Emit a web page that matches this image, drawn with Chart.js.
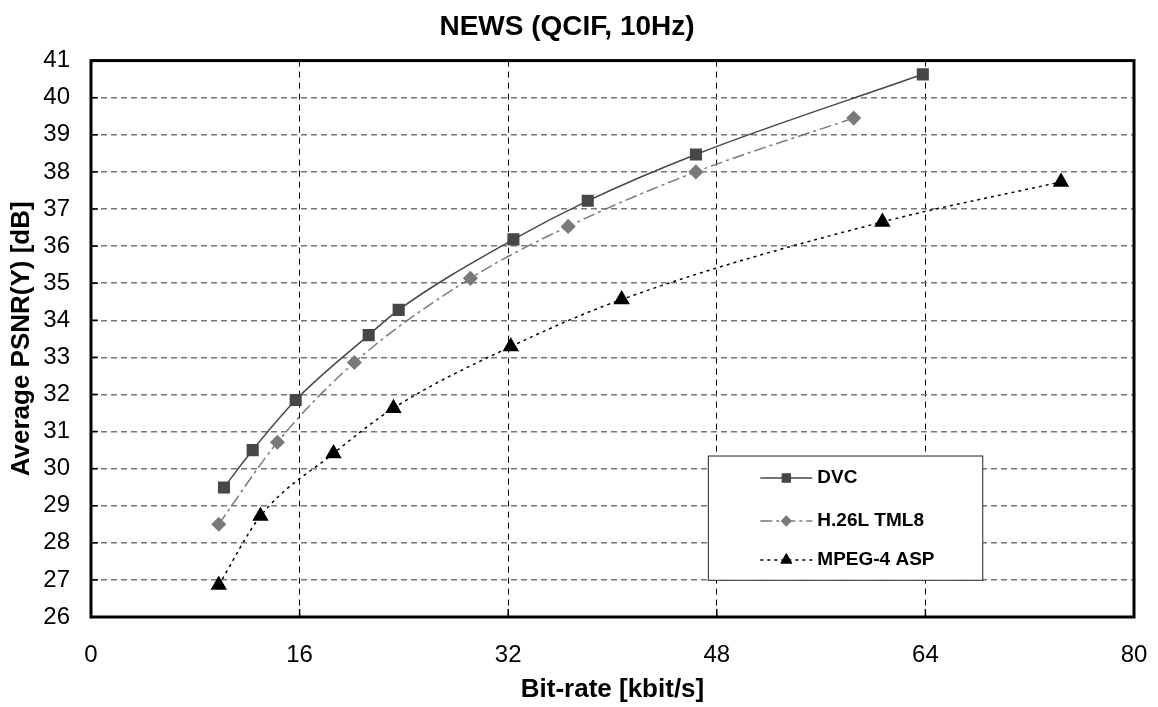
<!DOCTYPE html>
<html>
<head>
<meta charset="utf-8">
<script src="https://cdn.jsdelivr.net/npm/chart.js@4.4.1/dist/chart.umd.min.js"></script>
<style>
  html, body { margin: 0; padding: 0; background: #fff; }
  #wrap { width: 1158px; height: 707px; }
</style>
</head>
<body>
<div id="wrap"><canvas id="psnrChart"></canvas></div>
<script>
// Bit-rate [kbit/s] and average PSNR(Y) [dB] per codec
const dvcRate = [10.2, 12.4, 15.7, 21.3, 23.6, 32.4, 38.1, 46.4, 63.8];
const dvcPsnr = [29.49, 30.5, 31.85, 33.6, 34.28, 36.18, 37.22, 38.47, 40.63];
const h26lRate = [9.8, 14.3, 20.2, 29.1, 36.6, 46.4, 58.5];
const h26lPsnr = [28.5, 30.71, 32.86, 35.13, 36.53, 38.0, 39.45];
const mpeg4Rate = [9.8, 13.0, 18.6, 23.2, 32.2, 40.7, 60.7, 74.4];
const mpeg4Psnr = [26.86, 28.72, 30.41, 31.63, 33.29, 34.56, 36.65, 37.73];
const seriesNames = ['DVC', 'H.26L TML8', 'MPEG-4 ASP'];
const xTicks = [0, 16, 32, 48, 64, 80];
const yTicks = [26, 27, 28, 29, 30, 31, 32, 33, 34, 35, 36, 37, 38, 39, 40, 41];

const FONT = "'Liberation Sans', Arial, Helvetica, sans-serif";

function pts(xs, ys) {
  return xs.map((x, i) => ({ x: x, y: ys[i] }));
}

// frame round the plot area, with small inward tick marks
const framePlugin = {
  id: 'frame',
  afterDatasetsDraw(chart) {
    const { ctx, chartArea: a, scales } = chart;
    ctx.save();
    ctx.strokeStyle = '#000';
    ctx.lineWidth = 1.5;
    ctx.setLineDash([]);
    scales.x.ticks.forEach(t => {
      const px = scales.x.getPixelForValue(t.value);
      ctx.beginPath();
      ctx.moveTo(px, a.bottom);
      ctx.lineTo(px, a.bottom - 8);
      ctx.stroke();
    });
    scales.y.ticks.forEach(t => {
      const py = scales.y.getPixelForValue(t.value);
      ctx.beginPath();
      ctx.moveTo(a.left, py);
      ctx.lineTo(a.left + 7, py);
      ctx.stroke();
    });
    ctx.lineWidth = 3;
    ctx.strokeRect(a.left, a.top, a.right - a.left, a.bottom - a.top);
    ctx.restore();
  }
};

// boxed legend inside the plot, lower right
const boxLegend = {
  id: 'boxLegend',
  afterDatasetsDraw(chart, args, opts) {
    const { ctx, scales } = chart;
    const x0 = scales.x.getPixelForValue(opts.x0);
    const x1 = scales.x.getPixelForValue(opts.x1);
    const y0 = scales.y.getPixelForValue(opts.y0);
    const y1 = scales.y.getPixelForValue(opts.y1);
    ctx.save();
    ctx.fillStyle = '#fff';
    ctx.fillRect(x0, y0, x1 - x0, y1 - y0);
    ctx.strokeStyle = '#222';
    ctx.lineWidth = 1;
    ctx.strokeRect(x0, y0, x1 - x0, y1 - y0);
    chart.data.datasets.forEach((ds, i) => {
      const ry = y0 + opts.rows[i];
      const lx = x0 + 52;
      ctx.save();
      ctx.strokeStyle = ds.borderColor;
      ctx.lineWidth = ds.borderWidth;
      ctx.setLineDash(ds.borderDash || []);
      ctx.beginPath();
      ctx.moveTo(lx, ry);
      ctx.lineTo(lx + 52, ry);
      ctx.stroke();
      ctx.restore();
      ctx.fillStyle = ds.pointBackgroundColor;
      ctx.strokeStyle = ds.pointBorderColor;
      ctx.lineWidth = 1;
      Chart.helpers.drawPoint(ctx, {
        pointStyle: ds.pointStyle,
        radius: ds.pointRadius * 0.8,
        borderWidth: 1,
        rotation: 0
      }, lx + 26, ry);
      ctx.fillStyle = '#000';
      ctx.font = 'bold 19px ' + FONT;
      ctx.textBaseline = 'middle';
      ctx.textAlign = 'left';
      ctx.fillText(ds.label, lx + 57, ry);
    });
    ctx.restore();
  }
};

const chart = new Chart(document.getElementById('psnrChart').getContext('2d'), {
  type: 'scatter',
  data: {
    datasets: [{
      label: seriesNames[0],
      data: pts(dvcRate, dvcPsnr),
      showLine: true,
      borderColor: '#474747',
      borderWidth: 1.5,
      pointStyle: 'rect',
      pointRadius: 7.5,
      pointBackgroundColor: '#474747',
      pointBorderColor: '#474747',
      cubicInterpolationMode: 'monotone'
    }, {
      label: seriesNames[1],
      data: pts(h26lRate, h26lPsnr),
      showLine: true,
      borderColor: '#7a7a7a',
      borderWidth: 1.5,
      borderDash: [12, 4, 3, 4],
      pointStyle: 'rectRot',
      pointRadius: 6.5,
      pointBackgroundColor: '#7a7a7a',
      pointBorderColor: '#7a7a7a',
      cubicInterpolationMode: 'monotone'
    }, {
      label: seriesNames[2],
      data: pts(mpeg4Rate, mpeg4Psnr),
      showLine: true,
      borderColor: '#000',
      borderWidth: 1.5,
      borderDash: [3, 4],
      pointStyle: 'triangle',
      pointRadius: 8,
      pointBackgroundColor: '#000',
      pointBorderColor: '#000',
      cubicInterpolationMode: 'monotone'
    }]
  },
  options: {
    responsive: true,
    maintainAspectRatio: false,
    animation: false,
    layout: { padding: { left: 0, right: 24, top: 0, bottom: 0 } },
    plugins: {
      legend: { display: false },
      tooltip: { enabled: false },
      title: {
        display: true,
        text: 'NEWS (QCIF, 10Hz)',
        color: '#000',
        font: { family: FONT, size: 28, weight: 'bold' },
        padding: { top: 10, bottom: 17 }
      },
      boxLegend: { x0: 47.35, x1: 68.4, y0: 30.34, y1: 26.99, rows: [22, 65, 104] }
    },
    scales: {
      x: {
        type: 'linear',
        min: 0,
        max: 80,
        afterBuildTicks: s => { s.ticks = xTicks.map(v => ({ value: v })); },
        afterFit: s => { s.height = 90; s.paddingLeft = 0; s.paddingRight = 0; },
        grid: { color: '#000', lineWidth: 1, drawTicks: false },
        border: { display: false, dash: [6, 5] },
        ticks: { color: '#000', padding: 24, font: { family: FONT, size: 24 } },
        title: {
          display: true,
          text: 'Bit-rate [kbit/s]',
          color: '#000',
          font: { family: FONT, size: 26, weight: 'bold' },
          padding: { top: 0, bottom: 2 }
        }
      },
      y: {
        type: 'linear',
        min: 26,
        max: 41,
        afterBuildTicks: s => { s.ticks = yTicks.map(v => ({ value: v })); },
        afterFit: s => { s.width = 91; },
        grid: { color: '#777', lineWidth: 1.5, drawTicks: false },
        border: { display: false, dash: [6, 4] },
        ticks: { color: '#000', padding: 21, font: { family: FONT, size: 24 } },
        title: {
          display: true,
          text: 'Average PSNR(Y) [dB]',
          color: '#000',
          font: { family: FONT, size: 26, weight: 'bold' },
          padding: { top: 6, bottom: 0 }
        }
      }
    }
  },
  plugins: [framePlugin, boxLegend]
});
</script>
</body>
</html>
